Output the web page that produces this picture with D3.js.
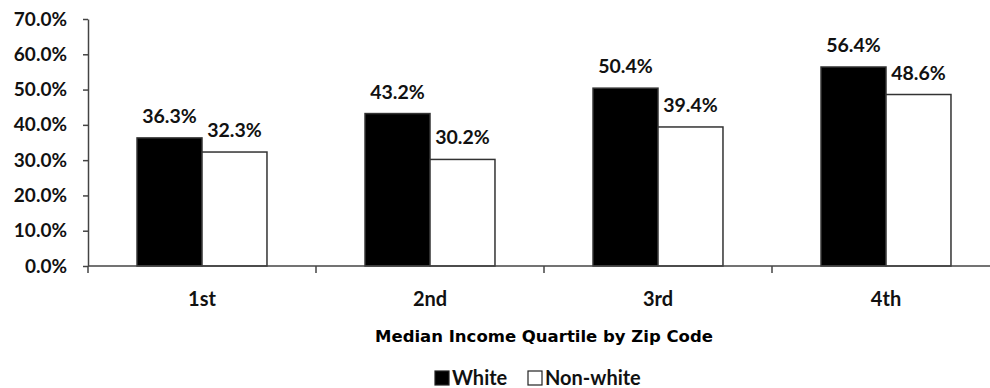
<!DOCTYPE html>
<html>
<head>
<meta charset="utf-8">
<script src="https://cdn.jsdelivr.net/npm/d3@7"></script>
<style>
  body { margin: 0; background: #fff; }
  .lbl { font-family: Lato, "Open Sans", sans-serif; font-weight: 700; fill: #111; }
</style>
</head>
<body>
<div id="chart"></div>
<script>
// data
var quartiles = ["1st", "2nd", "3rd", "4th"];
var groups = ["White", "Non-white"];
var white = [0.363, 0.432, 0.504, 0.564];
var nonWhite = [0.323, 0.302, 0.394, 0.486];
var yTicks = [0, 0.1, 0.2, 0.3, 0.4, 0.5, 0.6, 0.7];

var width = 990, height = 388;
var margin = { top: 19, left: 88, bottom: 122 };
var plotRight = 1000;

var svg = d3.select("#chart")
    .append("svg")
    .attr("width", width)
    .attr("height", height);

// scales
var x = d3.scaleBand()
    .domain(quartiles)
    .range([margin.left, plotRight])
    .paddingInner(0.43)
    .paddingOuter(0.215);

var xSub = d3.scaleBand()
    .domain(groups)
    .range([0, x.bandwidth()]);

var y = d3.scaleLinear()
    .domain([0, 0.7])
    .range([height - margin.bottom, margin.top]);

var fills = { "White": "#000", "Non-white": "#fff" };

// rows for bars
var rows = [];
quartiles.forEach(function (q, i) {
    rows.push({ q: q, g: "White", v: white[i] });
    rows.push({ q: q, g: "Non-white", v: nonWhite[i] });
});

// Bars
svg.selectAll("rect.bar")
    .data(rows)
    .enter()
    .append("rect")
    .attr("class", "bar")
    .attr("x", d => x(d.q) + xSub(d.g))
    .attr("y", d => y(d.v))
    .attr("width", xSub.bandwidth())
    .attr("height", d => y(0) - y(d.v))
    .attr("fill", d => fills[d.g])
    .attr("stroke", "#333")
    .attr("stroke-width", 1.5);

// value labels
svg.selectAll("text.val")
    .data(rows)
    .enter()
    .append("text")
    .attr("class", "lbl")
    .attr("x", d => x(d.q) + xSub(d.g) + xSub.bandwidth() / 2)
    .attr("y", d => y(d.v) - 15)
    .attr("text-anchor", "middle")
    .style("font-size", "19.5px")
    .text(d => d3.format(".1%")(d.v));

// Y axis
var yAxis = svg.append("g")
    .attr("transform", `translate(${margin.left},0)`)
    .call(d3.axisLeft(y).tickValues(yTicks).tickFormat(d3.format(".1%"))
        .tickSize(5).tickSizeOuter(0).tickPadding(16));
yAxis.select(".domain").attr("stroke", "#444").attr("stroke-width", 1.5);
yAxis.selectAll(".tick line").attr("stroke", "#444").attr("stroke-width", 1.5);
yAxis.selectAll("text")
    .attr("class", "lbl")
    .attr("fill", "#111")
    .style("font-size", "19px");

// X axis (labels centred in bands)
var xAxis = svg.append("g")
    .attr("transform", `translate(0,${y(0)})`)
    .call(d3.axisBottom(x).tickSize(0).tickPadding(26));
xAxis.select(".domain").remove();
xAxis.selectAll("text")
    .attr("class", "lbl")
    .attr("fill", "#111")
    .style("font-size", "20px");

svg.append("line")
    .attr("x1", margin.left).attr("x2", width)
    .attr("y1", y(0)).attr("y2", y(0))
    .attr("stroke", "#444").attr("stroke-width", 1.5);

// tick marks between categories
var step = x.step(), gap = step - x.bandwidth();
var bounds = quartiles.map(q => x(q) - gap / 2);
svg.selectAll("line.xtick")
    .data(bounds)
    .enter()
    .append("line")
    .attr("x1", d => d).attr("x2", d => d)
    .attr("y1", y(0)).attr("y2", y(0) + 7)
    .attr("stroke", "#444").attr("stroke-width", 1.5);

// axis title
svg.append("text")
    .attr("x", (margin.left + plotRight) / 2)
    .attr("y", 342)
    .attr("text-anchor", "middle")
    .style("font-family", "'DejaVu Sans', Verdana, sans-serif")
    .style("font-weight", "bold")
    .style("font-size", "16.5px")
    .style("fill", "#000")
    .text("Median Income Quartile by Zip Code");

// legend
var legendX = [435, 528];
var legend = svg.selectAll("g.legend")
    .data(groups)
    .enter()
    .append("g")
    .attr("transform", (d, i) => `translate(${legendX[i]},371)`);
legend.append("rect")
    .attr("width", 14).attr("height", 14)
    .attr("fill", d => fills[d])
    .attr("stroke", "#222").attr("stroke-width", 1.2);
legend.append("text")
    .attr("class", "lbl")
    .attr("x", 17)
    .attr("y", 14)
    .style("font-size", "20px")
    .text(d => d);
</script>
</body>
</html>
